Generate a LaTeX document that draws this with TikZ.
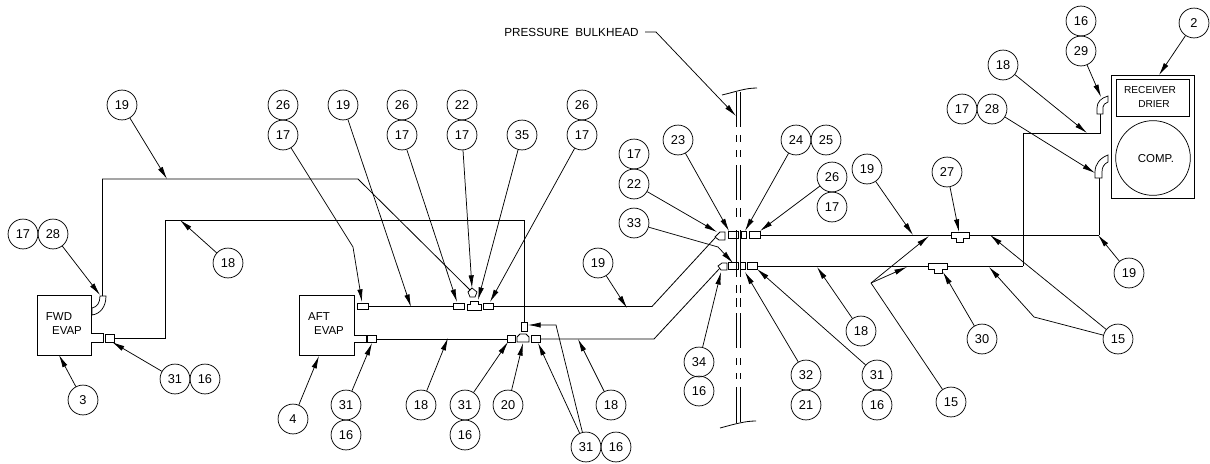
\documentclass[tikz,border=0pt]{standalone}
\usepackage{fontspec}
\setmainfont{Liberation Sans}
\usetikzlibrary{arrows.meta}

\begin{document}
\begin{tikzpicture}[
        x=0.75pt,
        y=-0.75pt,
        callout/.style={
            circle,
            draw,
            line width=0.55pt,
            inner sep=0pt,
            minimum size=22.4pt,
            font=\fontsize{9.6}{11}\selectfont
        },
        tag/.style={
            inner sep=0pt,
            font=\fontsize{8.6}{10}\selectfont
        },
        fitting/.style={
            rectangle,
            draw,
            fill=white,
            line width=0.55pt,
            inner sep=0pt,
            minimum height=5pt
        },
        line/.style={
            draw,
            line width=0.6pt
        },
        part/.style={
            draw,
            fill=white,
            line width=0.55pt
        },
        leader/.style={
            draw,
            line width=0.55pt,
            -{Latex[length=9.5pt,width=4pt]}
        },
        wall/.style={
            draw,
            line width=0.6pt
        },
      ]
        \useasboundingbox (0,0) rectangle (1210,464);

        \node [tag] (fwd-tag) at (59,317) {FWD};
        \node [tag] (fwd-tag-evap) at (67,331) {EVAP};
        \node [tag] (aft-tag) at (319,317) {AFT};
        \node [tag] (aft-tag-evap) at (329,331) {EVAP};
        \node [tag,font=\fontsize{8.8}{10}\selectfont] (bulkhead) at (571.5,32) {PRESSURE\ \ BULKHEAD};
        \node [rectangle,draw,line width=0.55pt,minimum width=62.25pt,minimum height=92.25pt] (compressor) at (1152.5,136.5) {};
        \node [rectangle,draw,line width=0.55pt,minimum width=54.75pt,minimum height=27.75pt] (drier) at (1152.5,97.5) {};
        \node [tag,font=\fontsize{7.6}{9}\selectfont] (drier-tag) at (1150,90.5) {RECEIVER};
        \node [tag,font=\fontsize{7.6}{9}\selectfont] (drier-tag-b) at (1154,104.5) {DRIER};
        \node [circle,draw,line width=0.55pt,minimum size=56pt,inner sep=0pt] (comp) at (1153,158) {};
        \node [tag] (comp-tag) at (1156,159) {COMP.};

        \draw [line] (91,333) -- (91,295) -- (37,295) -- (37,355) -- (91,355) -- (91,342) -- (103,342) -- (103,333) -- cycle;
        \draw [line] (354,335) -- (354,295) -- (299,295) -- (299,355) -- (354,355) -- (354,342) -- (366,342) -- (366,335) -- cycle;

        \coordinate (fwd-elbow) at (102.5,296);
        \coordinate (wall-suction-end) at (715,238);
        \coordinate (wall-liquid-end) at (720,268);
        \coordinate (comp-elbow-a) at (1099,178);
        \coordinate (comp-elbow-b) at (1100,114);
        \coordinate (aft-cross) at (471,291);
        \coordinate (liquid-join) at (1023,266);
        \coordinate (suction-tee) at (1099,235);

        \node [fitting,minimum width=6.75pt,minimum height=6pt] (fwd-union) at (109.5,338) {};
        \node [fitting,minimum width=8.25pt] (aft-suction-a) at (362.5,306.5) {};
        \node [fitting,minimum width=8.25pt] (aft-suction-b) at (458.5,306.5) {};
        \node [fitting,minimum width=7.5pt] (aft-suction-c) at (488,306.5) {};
        \node [fitting,minimum width=6.75pt] (aft-liquid-a) at (371.5,339) {};
        \node [fitting,minimum width=6pt] (aft-liquid-b) at (511,339) {};
        \node [fitting,minimum width=6.75pt] (aft-liquid-c) at (535.5,339) {};
        \node [fitting,minimum width=4.5pt,minimum height=6.75pt] (aft-liquid-d) at (524,326.5) {};
        \node [fitting,minimum width=7.5pt] (wall-suction-a) at (733,235) {};
        \node [fitting,minimum width=3.75pt] (wall-suction-b) at (743.5,235) {};
        \node [fitting,minimum width=8.25pt] (wall-suction-c) at (754.5,235) {};
        \node [fitting,minimum width=7.5pt] (wall-liquid-a) at (733,266) {};
        \node [fitting,minimum width=3.75pt] (wall-liquid-b) at (742.5,266) {};
        \node [fitting,minimum width=7.5pt] (wall-liquid-c) at (752,266) {};

        \path [line] (fwd-elbow) |- (358,179) -- (aft-cross);
        \path [line] (fwd-union.east) -| (165,220) -| (aft-liquid-d.north);
        \path [line] (aft-suction-a) -- (aft-suction-b);
        \path [line] (aft-suction-c) -- (652,306.5) -- (wall-suction-end);
        \path [line] (aft-liquid-a) -- (aft-liquid-b);
        \path [line] (aft-liquid-c) -- (654,339) -- (wall-liquid-end);
        \path [line] (wall-suction-c) -- (suction-tee);
        \path [line] (suction-tee) -- (comp-elbow-a);
        \path [line] (wall-liquid-c) -- (liquid-join);
        \path [line] (liquid-join) |- (1100,133) -- (comp-elbow-b);

        \draw [part] (100,296) -- (106,296) .. controls (106,307) and (100,314) .. (92,315) -- (92,308) .. controls (97,307) and (100,303) .. (100,296) -- cycle;
        \draw [part] (1097,114) -- (1103,114) -- (1103,107) .. controls (1103,105) and (1105,103) .. (1108,102) -- (1108,96) .. controls (1101,98) and (1097,102) .. (1097,108) -- cycle;
        \draw [part] (1095,178) -- (1102,178) -- (1102,172) .. controls (1102,167) and (1104,164) .. (1108,162) -- (1108,155) .. controls (1100,158) and (1095,164) .. (1095,172) -- cycle;
        \draw [part] (467,310) -- (467,304) -- (470,304) -- (470,301) -- (478,301) -- (478,304) -- (481,304) -- (481,310) -- cycle;
        \draw [part] (472,288) -- (477,292) -- (475,297) -- (470,297) -- (468,292) -- cycle;
        \draw [part] (517,342) -- (517,337) -- (520,334) -- (526,334) -- (529,337) -- (529,342) -- cycle;
        \draw [part] (725,232) -- (720,232) -- (715,237) -- (719,240) -- (725,240) -- cycle;
        \draw [part] (727,263) -- (722,263) -- (718,266) -- (721,270) -- (727,270) -- cycle;
        \draw [part] (951,232) -- (969,232) -- (969,238) -- (963,238) -- (963,242) -- (956,242) -- (956,238) -- (951,238) -- cycle;
        \draw [part] (928,263) -- (947,263) -- (947,269) -- (942,269) -- (942,273) -- (934,273) -- (934,269) -- (928,269) -- cycle;

        \draw [wall] (722,95) .. controls (735,92) and (745,88) .. (757,88);
        \draw [wall] (720,428) .. controls (735,424) and (745,421) .. (756,421);
        \draw [wall] (736,92) -- (736,127) (736,135) -- (736,142) (736,150) -- (736,157) (736,165) -- (736,200) (736,208) -- (736,217) (736,230) -- (736,277) (736,285) -- (736,293) (736,298) -- (736,307) (736,313) -- (736,348) (736,358) -- (736,365) (736,373) -- (736,379) (736,387) -- (736,423);
        \draw [wall] (740,92) -- (740,127) (740,135) -- (740,142) (740,150) -- (740,157) (740,165) -- (740,200) (740,208) -- (740,217) (740,230) -- (740,277) (740,285) -- (740,293) (740,298) -- (740,307) (740,313) -- (740,348) (740,358) -- (740,365) (740,373) -- (740,379) (740,387) -- (740,422);

        \node [callout] (item-19-fwd) at (122,105) {19};
        \node [callout] (item-17-fwd) at (23,234) {17};
        \node [callout] (item-28-fwd) at (53,234) {28};
        \node [callout] (item-18-fwd) at (228,263) {18};
        \node [callout] (item-3) at (83,400) {3};
        \node [callout] (item-31-fwd) at (175,379) {31};
        \node [callout] (item-16-fwd) at (205,379) {16};
        \node [callout] (item-26-a) at (283,105) {26};
        \node [callout] (item-17-a) at (283,135) {17};
        \node [callout] (item-19-aft) at (343,105) {19};
        \node [callout] (item-26-b) at (402,105) {26};
        \node [callout] (item-17-b) at (402,135) {17};
        \node [callout] (item-22-b) at (462,105) {22};
        \node [callout] (item-17-c) at (462,135) {17};
        \node [callout] (item-35) at (522,135) {35};
        \node [callout] (item-26-c) at (582,105) {26};
        \node [callout] (item-17-d) at (582,135) {17};
        \node [callout] (item-4) at (293,419) {4};
        \node [callout] (item-31-a) at (346,405) {31};
        \node [callout] (item-16-a) at (346,435) {16};
        \node [callout] (item-18-a) at (421,405) {18};
        \node [callout] (item-31-b) at (465,405) {31};
        \node [callout] (item-16-b) at (465,435) {16};
        \node [callout] (item-20) at (508,405) {20};
        \node [callout] (item-31-c) at (586,447) {31};
        \node [callout] (item-16-c) at (616,447) {16};
        \node [callout] (item-18-b) at (611,405) {18};
        \node [callout] (item-19-b) at (598,263) {19};
        \node [callout] (item-17-e) at (634,154) {17};
        \node [callout] (item-22) at (634,184) {22};
        \node [callout] (item-33) at (634,223) {33};
        \node [callout] (item-23) at (678,140) {23};
        \node [callout] (item-24) at (796,140) {24};
        \node [callout] (item-25) at (826,140) {25};
        \node [callout] (item-26-d) at (832,177) {26};
        \node [callout] (item-17-f) at (832,207) {17};
        \node [callout] (item-19-c) at (867,169) {19};
        \node [callout] (item-27) at (947,172) {27};
        \node [callout] (item-17-g) at (962,109) {17};
        \node [callout] (item-28) at (992,109) {28};
        \node [callout] (item-18-c) at (1003,65) {18};
        \node [callout] (item-16-d) at (1081,21) {16};
        \node [callout] (item-29) at (1081,51) {29};
        \node [callout] (item-2) at (1194,23) {2};
        \node [callout] (item-19-d) at (1129,273) {19};
        \node [callout] (item-15-a) at (1118,339) {15};
        \node [callout] (item-30) at (982,339) {30};
        \node [callout] (item-15-b) at (951,402) {15};
        \node [callout] (item-18-d) at (861,331) {18};
        \node [callout] (item-31-d) at (877,375) {31};
        \node [callout] (item-16-e) at (877,405) {16};
        \node [callout] (item-32) at (806,375) {32};
        \node [callout] (item-21) at (806,405) {21};
        \node [callout] (item-34) at (699,362) {34};
        \node [callout] (item-16-f) at (699,391) {16};

        \coordinate (to-19-fwd) at (167,179);
        \coordinate (to-28-fwd) at (100,295);
        \coordinate (to-18-fwd) at (180,220);
        \coordinate (to-3) at (59,355);
        \coordinate (to-31-fwd) at (112,342);
        \coordinate (to-26-a) at (362,302);
        \coordinate (to-19-aft) at (411,307);
        \coordinate (to-26-b) at (457,302);
        \coordinate (to-22-b) at (472,288);
        \coordinate (to-35) at (478,300);
        \coordinate (to-26-c) at (490,302);
        \coordinate (to-4) at (319,356);
        \coordinate (to-31-a) at (372,343);
        \coordinate (to-18-a) at (448,338);
        \coordinate (to-31-b) at (508,342);
        \coordinate (to-20) at (523,343);
        \coordinate (to-31-c) at (538,343);
        \coordinate (to-31-e) at (528,325);
        \coordinate (to-18-b) at (578,339);
        \coordinate (to-19-b) at (627,308);
        \coordinate (to-22) at (717,232);
        \coordinate (to-33) at (733,263);
        \coordinate (to-23) at (729,231);
        \coordinate (to-24) at (745,231);
        \coordinate (to-26-d) at (760,231);
        \coordinate (to-19-c) at (913,235);
        \coordinate (to-27) at (959,232);
        \coordinate (to-28) at (1095,173);
        \coordinate (to-18-c) at (1087,133);
        \coordinate (to-29) at (1101,97);
        \coordinate (to-2) at (1159,75);
        \coordinate (to-19-d) at (1098,235);
        \coordinate (to-15-a) at (990,235);
        \coordinate (to-15-b) at (989,267);
        \coordinate (to-15-c) at (929,236);
        \coordinate (to-15-d) at (907,267);
        \coordinate (to-30) at (943,272);
        \coordinate (to-18-d) at (817,267);
        \coordinate (to-31-d) at (757,269);
        \coordinate (to-32) at (745,272);
        \coordinate (to-34) at (721,272);
        \coordinate (to-bulkhead) at (736,116);
        \coordinate (from-bulkhead) at (645,32);
        \coordinate (fork-15) at (871,283);

        \path [leader] (item-19-fwd) -- (to-19-fwd);
        \path [leader] (item-28-fwd) -- (to-28-fwd);
        \path [leader] (item-18-fwd) -- (to-18-fwd);
        \path [leader] (item-3) -- (to-3);
        \path [leader] (item-31-fwd) -- (to-31-fwd);
        \path [leader] (item-17-a) -- (353,247) -- (to-26-a);
        \path [leader] (item-19-aft) -- (to-19-aft);
        \path [leader] (item-17-b) -- (to-26-b);
        \path [leader] (item-17-c) -- (to-22-b);
        \path [leader] (item-35) -- (to-35);
        \path [leader] (item-17-d) -- (to-26-c);
        \path [leader] (item-4) -- (to-4);
        \path [leader] (item-31-a) -- (to-31-a);
        \path [leader] (item-18-a) -- (to-18-a);
        \path [leader] (item-31-b) -- (to-31-b);
        \path [leader] (item-20) -- (to-20);
        \path [leader] (item-31-c) -- (to-31-c);
        \path [leader] (item-31-c) -- (556,325) -- (to-31-e);
        \path [leader] (item-18-b) -- (to-18-b);
        \path [leader] (item-19-b) -- (to-19-b);
        \path [leader] (item-22) -- (to-22);
        \path [leader] (item-33) -- (718,247) -- (to-33);
        \path [leader] (item-23) -- (to-23);
        \path [leader] (item-24) -- (to-24);
        \path [leader] (item-26-d) -- (to-26-d);
        \path [leader] (item-19-c) -- (to-19-c);
        \path [leader] (item-27) -- (to-27);
        \path [leader] (item-28) -- (to-28);
        \path [leader] (item-18-c) -- (to-18-c);
        \path [leader] (item-29) -- (to-29);
        \path [leader] (item-2) -- (to-2);
        \path [leader] (item-19-d) -- (to-19-d);
        \path [leader] (item-15-a) -- (to-15-a);
        \path [leader] (item-15-a) -- (1034,317) -- (to-15-b);
        \path [draw,line width=0.55pt] (item-15-b) -- (fork-15);
        \path [leader] (fork-15) -- (to-15-c);
        \path [leader] (fork-15) -- (to-15-d);
        \path [leader] (item-30) -- (to-30);
        \path [leader] (item-18-d) -- (to-18-d);
        \path [leader] (item-31-d) -- (to-31-d);
        \path [leader] (item-32) -- (to-32);
        \path [leader] (item-34) -- (to-34);
        \path [leader] (from-bulkhead) -- (656,32) -- (to-bulkhead);
      \end{tikzpicture}
\end{document}
